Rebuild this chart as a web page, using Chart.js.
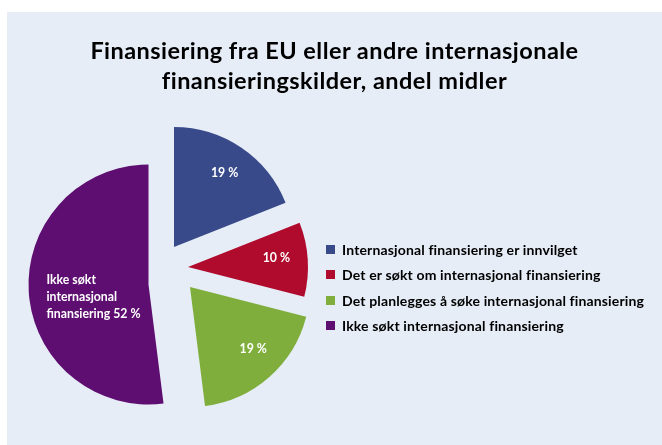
<!DOCTYPE html>
<html>
<head>
<meta charset="utf-8">
<title>Finansiering fra EU eller andre internasjonale finansieringskilder</title>
<script src="https://cdn.jsdelivr.net/npm/chart.js@4.4.1/dist/chart.umd.min.js"></script>
<style>
  html, body { margin: 0; padding: 0; background: #ffffff; }
  body { width: 662px; height: 445px; position: relative; overflow: hidden; font-family: Lato, "Open Sans", sans-serif; }
  #panel { position: absolute; left: 7px; top: 12px; width: 655px; height: 433px; background: #e6edf7; }
  #chart { position: absolute; left: 0; top: 0; }
  #title { position: absolute; left: 0; top: 23px; width: 655px; text-align: center;
           font: bold 23.5px/30px Lato, sans-serif; letter-spacing: 0.45px; color: #000; }
  #legend { position: absolute; left: 319px; top: 225px; margin: 0; padding: 0; list-style: none;
            font: bold 14px Lato, sans-serif; letter-spacing: 0.15px; color: #000; }
  #legend li { height: 25.3px; display: flex; align-items: center; white-space: nowrap; }
  #legend .box { width: 9px; height: 9px; margin-right: 7px; flex: none; }
</style>
</head>
<body>
<div id="panel">
  <canvas id="chart" width="655" height="433"></canvas>
  <div id="title"></div>
  <ul id="legend"></ul>
</div>
<script>
// Chart content
const titleLines = ['Finansiering fra EU eller andre internasjonale', 'finansieringskilder, andel midler'];
const categories = [
  'Internasjonal finansiering er innvilget',
  'Det er søkt om internasjonal finansiering',
  'Det planlegges å søke internasjonal finansiering',
  'Ikke søkt internasjonal finansiering'
];
const shares = [19, 10, 19, 52];
const labelShowsName = [false, false, false, true];

// Styling
const sliceColors = ['#394a8b', '#b00b2d', '#7fae3c', '#5e0e71'];
// explosion of each slice away from the common centre, in px (x, y)
const sliceShift = [[9, -25], [23, -5], [25, 15], [-16.5, 12.5]];
// label placement: fraction of the radius and turn (degrees) from the slice bisector
const labelRadius = [0.75, 0.74, 0.74, 0.47];
const labelTurn = [0, -2, -4, -9];

document.getElementById('title').innerHTML = titleLines.join('<br>');

const explode = {
  id: 'explode',
  afterDatasetsUpdate(chart) {
    chart.getDatasetMeta(0).data.forEach((arc, i) => {
      arc.x += sliceShift[i][0];
      arc.y += sliceShift[i][1];
    });
  }
};

function wrapName(ctx, text, maxWidth) {
  const words = text.split(' ');
  const lines = [];
  let cur = '';
  words.forEach(w => {
    const test = cur ? cur + ' ' + w : w;
    if (cur && ctx.measureText(test).width > maxWidth) { lines.push(cur); cur = w; }
    else cur = test;
  });
  if (cur) lines.push(cur);
  return lines;
}

const sliceLabels = {
  id: 'sliceLabels',
  afterDatasetsDraw(chart) {
    const c = chart.ctx;
    const values = chart.data.datasets[0].data;
    c.save();
    c.fillStyle = '#ffffff';
    c.font = 'bold 12.3px Lato, sans-serif';
    c.textBaseline = 'middle';
    chart.getDatasetMeta(0).data.forEach((arc, i) => {
      const p = arc.getProps(['x', 'y', 'startAngle', 'endAngle', 'outerRadius'], true);
      const a = (p.startAngle + p.endAngle) / 2 + labelTurn[i] * Math.PI / 180;
      const r = p.outerRadius * labelRadius[i];
      const x = p.x + Math.cos(a) * r;
      const y = p.y + Math.sin(a) * r;
      const valueText = values[i] + ' %';
      let lines;
      if (labelShowsName[i]) {
        lines = wrapName(c, chart.data.labels[i], 82);
        lines[lines.length - 1] += ' ' + valueText;
      } else {
        lines = [valueText];
      }
      const lh = 17;
      if (lines.length > 1) {
        const w = Math.max(...lines.map(l => c.measureText(l).width));
        c.textAlign = 'left';
        lines.forEach((l, k) => c.fillText(l, x - w / 2, y + (k - (lines.length - 1) / 2) * lh));
      } else {
        c.textAlign = 'center';
        c.fillText(lines[0], x, y);
      }
    });
    c.restore();
  }
};

const chart = new Chart(document.getElementById('chart'), {
  type: 'pie',
  data: {
    labels: categories,
    datasets: [{
      data: shares,
      backgroundColor: sliceColors,
      borderWidth: 0
    }]
  },
  options: {
    responsive: false,
    animation: false,
    events: [],
    layout: { padding: { left: 38, right: 377, top: 140, bottom: 53 } },
    plugins: {
      legend: { display: false },
      title: { display: false },
      tooltip: { enabled: false }
    }
  },
  plugins: [explode, sliceLabels]
});

// Legend list built from the chart's own legend items
const legendEl = document.getElementById('legend');
chart.options.plugins.legend.labels.generateLabels(chart).forEach(item => {
  const li = document.createElement('li');
  const box = document.createElement('span');
  box.className = 'box';
  box.style.background = item.fillStyle;
  li.appendChild(box);
  li.appendChild(document.createTextNode(item.text));
  legendEl.appendChild(li);
});
</script>
</body>
</html>
